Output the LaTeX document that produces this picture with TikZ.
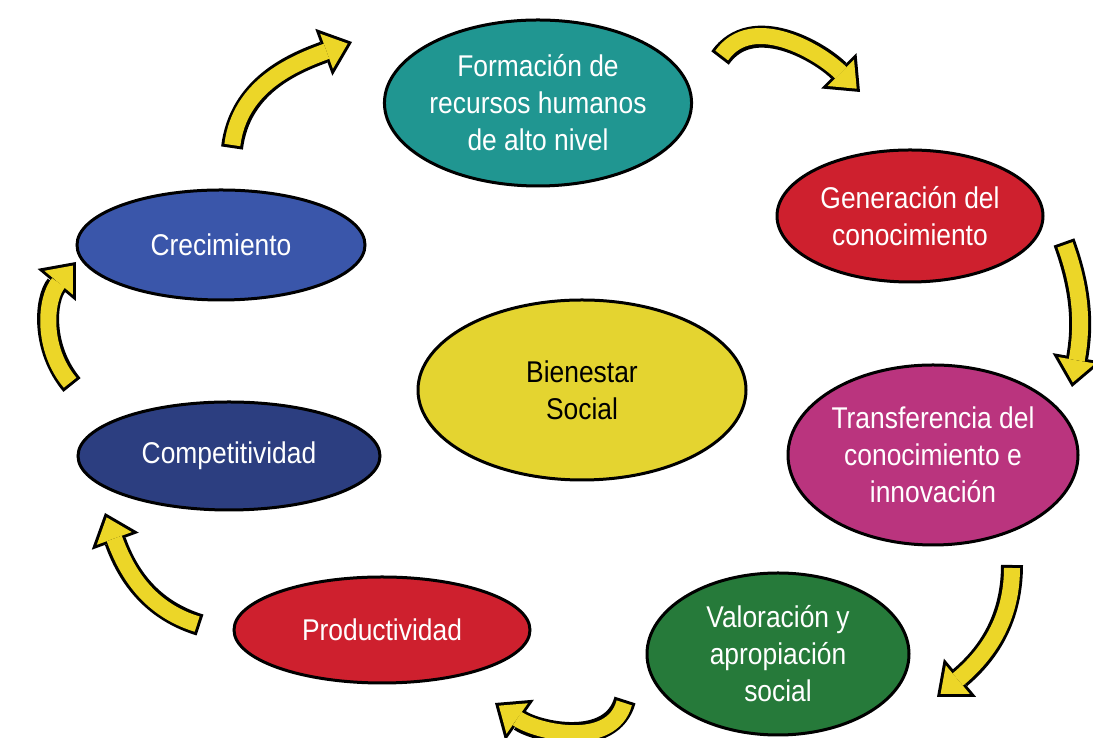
\documentclass[tikz,border=0pt]{standalone}
\usepackage{fontspec}
\setmainfont{Liberation Sans}[FakeStretch=0.88]
\usetikzlibrary{shapes.geometric,arrows.meta}

\definecolor{tealform}{RGB}{32,150,145}
\definecolor{redgen}{RGB}{206,32,46}
\definecolor{magtrans}{RGB}{186,52,126}
\definecolor{greenval}{RGB}{38,122,58}
\definecolor{navycomp}{RGB}{44,62,128}
\definecolor{bluecrec}{RGB}{58,86,170}
\definecolor{yellowbien}{RGB}{228,212,48}
\definecolor{arrowyellow}{RGB}{236,214,40}

\tikzset{
  stage/.style={ellipse, draw=black, line width=1.5pt, inner sep=0pt, align=center,
    text=white, font=\fontsize{15}{18.5}\selectfont},
  bendout/.style={line width=11pt, black, -{Triangle[length=15pt,width=25pt,line width=0pt]}},
  bendin/.style={line width=8pt, arrowyellow, shorten <=1.5pt, shorten >=2.34pt,
    -{Triangle[length=11.2pt,width=18.6pt,line width=0pt]}},
}

\begin{document}
\begin{tikzpicture}[x=0.5pt, y=0.5pt]
    \useasboundingbox (0,0) rectangle (1093,738);

    % the cycle of stages
    \node[stage, fill=tealform, minimum width=153pt, minimum height=83pt] (form) at (538,635)
        {Formación de\\recursos humanos\\de alto nivel};
    \node[stage, fill=redgen, minimum width=133pt, minimum height=66pt] (gen) at (910,522)
        {Generación del\\conocimiento};
    \node[stage, fill=magtrans, minimum width=145pt, minimum height=90pt] (trans) at (933,283)
        {Transferencia del\\conocimiento e\\innovación};
    \node[stage, fill=greenval, minimum width=131pt, minimum height=81pt] (valor) at (778,84)
        {Valoración y\\apropiación\\social};
    \node[stage, fill=redgen, minimum width=148pt, minimum height=53pt] (prod) at (382,108)
        {Productividad};
    \node[stage, fill=navycomp, minimum width=151pt, minimum height=54pt] (comp) at (229,282)
        {Competitividad};
    \node[stage, fill=bluecrec, minimum width=144pt, minimum height=55pt] (crec) at (221,493)
        {Crecimiento};

    % centre
    \node[stage, fill=yellowbien, text=black, minimum width=164pt, minimum height=90pt] (bien) at (582,348)
        {Bienestar\\Social};

    % ends of the bent arrows
    \coordinate (fg1) at (720,680);  \coordinate (fg2) at (860,646);
    \coordinate (gt1) at (1064,496); \coordinate (gt2) at (1072,351);
    \coordinate (tv1) at (1012,173); \coordinate (tv2) at (937,41);
    \coordinate (vp1) at (625,38);   \coordinate (vp2) at (495,35);
    \coordinate (pc1) at (200,113);  \coordinate (pc2) at (105,225);
    \coordinate (cc1) at (72,353);   \coordinate (cc2) at (76,476);
    \coordinate (cf1) at (232,590);  \coordinate (cf2) at (352,696);

    % outline first, then the yellow body
    \foreach \s/\e/\o/\i in {fg1/fg2/55/135, gt1/gt2/-70/80, tv1/tv2/-90/40,
                             vp1/vp2/-105/-35, pc1/pc2/163/-70, cc1/cc2/130/-130,
                             cf1/cf2/83/200} {
        \draw[bendout] (\s) to[out=\o,in=\i] (\e);
        \draw[bendin]  (\s) to[out=\o,in=\i] (\e);
    }
\end{tikzpicture}
\end{document}
